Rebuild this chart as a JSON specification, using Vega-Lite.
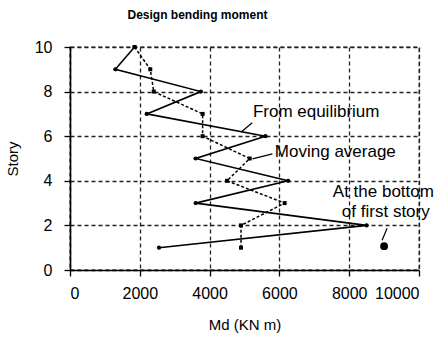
{
  "$schema": "https://vega.github.io/schema/vega-lite/v6.json",
  "autosize": "none",
  "width": 349,
  "height": 223,
  "padding": {"left": 70, "top": 47, "right": 20, "bottom": 70},
  "background": "white",
  "config": {
    "font": "Liberation Sans",
    "view": {"stroke": "#222", "strokeDash": [4, 3], "strokeWidth": 1.3},
    "axis": {
      "grid": true, "gridColor": "#222", "gridDash": [4, 3], "gridWidth": 1.3, "gridOpacity": 1,
      "domainColor": "#000", "domainWidth": 1.6, "tickColor": "#000", "tickSize": 6, "tickWidth": 1.3,
      "labelColor": "#000", "labelFontSize": 16, "titleColor": "#000", "titleFontSize": 15, "titleFontWeight": "normal"
    }
  },
  "title": {"text": "Design bending moment", "fontSize": 12, "fontWeight": "bold", "anchor": "middle", "dx": -47, "offset": 17, "color": "#000"},
  "datasets": {
    "lines": [
      {"s": "From equilibrium", "x": 1850, "y": 10},
      {"s": "From equilibrium", "x": 1300, "y": 9},
      {"s": "From equilibrium", "x": 3750, "y": 8},
      {"s": "From equilibrium", "x": 2200, "y": 7},
      {"s": "From equilibrium", "x": 5600, "y": 6},
      {"s": "From equilibrium", "x": 3600, "y": 5},
      {"s": "From equilibrium", "x": 6250, "y": 4},
      {"s": "From equilibrium", "x": 3600, "y": 3},
      {"s": "From equilibrium", "x": 8500, "y": 2},
      {"s": "From equilibrium", "x": 2550, "y": 1},
      {"s": "Moving average", "x": 1850, "y": 10},
      {"s": "Moving average", "x": 2300, "y": 9},
      {"s": "Moving average", "x": 2400, "y": 8},
      {"s": "Moving average", "x": 3800, "y": 7},
      {"s": "Moving average", "x": 3800, "y": 6},
      {"s": "Moving average", "x": 5150, "y": 5},
      {"s": "Moving average", "x": 4500, "y": 4},
      {"s": "Moving average", "x": 6150, "y": 3},
      {"s": "Moving average", "x": 4900, "y": 2},
      {"s": "Moving average", "x": 4900, "y": 1}
    ],
    "labels": [
      {"t": "From equilibrium", "x": 5240, "y": 7.08},
      {"t": "Moving average", "x": 5870, "y": 5.29},
      {"t": "At the bottom", "x": 7530, "y": 3.5},
      {"t": "of first story", "x": 7790, "y": 2.6}
    ],
    "leaders": [
      {"x": 5220, "y": 6.6, "x2": 4905, "y2": 6.19},
      {"x": 5800, "y": 5.21, "x2": 5229, "y2": 4.98},
      {"x": 9086, "y": 1.87, "x2": 8943, "y2": 1.33}
    ]
  },
  "layer": [
    {
      "data": {"name": "lines"},
      "transform": [{"filter": "datum.s == 'From equilibrium'"}],
      "mark": {"type": "line", "color": "#000", "strokeWidth": 1.6, "point": {"filled": true, "color": "#000", "size": 18}},
      "encoding": {
        "x": {"field": "x", "type": "quantitative", "scale": {"domain": [0, 10000]}, "axis": {"values": [0, 2000, 4000, 6000, 8000, 10000], "format": "d", "title": "Md (KN m)", "labelPadding": 9, "titlePadding": 16}},
        "y": {"field": "y", "type": "quantitative", "scale": {"domain": [0, 10]}, "axis": {"values": [0, 2, 4, 6, 8, 10], "title": "Story", "labelPadding": 12, "titlePadding": 14}},
        "order": {"field": "y", "sort": "descending"}
      }
    },
    {
      "data": {"name": "lines"},
      "transform": [{"filter": "datum.s == 'Moving average'"}],
      "mark": {"type": "line", "color": "#000", "strokeWidth": 1.5, "strokeDash": [3, 2], "point": {"filled": true, "color": "#000", "shape": "square", "size": 16}},
      "encoding": {
        "x": {"field": "x", "type": "quantitative"},
        "y": {"field": "y", "type": "quantitative"},
        "order": {"field": "y", "sort": "descending"}
      }
    },
    {
      "data": {"values": [{"x": 9000, "y": 1.07}]},
      "mark": {"type": "point", "filled": true, "color": "#000", "size": 60, "opacity": 1},
      "encoding": {"x": {"field": "x", "type": "quantitative"}, "y": {"field": "y", "type": "quantitative"}}
    },
    {
      "data": {"name": "leaders"},
      "mark": {"type": "rule", "color": "#000", "strokeWidth": 1.2},
      "encoding": {
        "x": {"field": "x", "type": "quantitative"}, "y": {"field": "y", "type": "quantitative"},
        "x2": {"field": "x2"}, "y2": {"field": "y2"}
      }
    },
    {
      "data": {"name": "labels"},
      "mark": {"type": "text", "align": "left", "baseline": "middle", "fontSize": 17, "color": "#000", "clip": false},
      "encoding": {
        "x": {"field": "x", "type": "quantitative"}, "y": {"field": "y", "type": "quantitative"},
        "text": {"field": "t"}
      }
    }
  ]
}
